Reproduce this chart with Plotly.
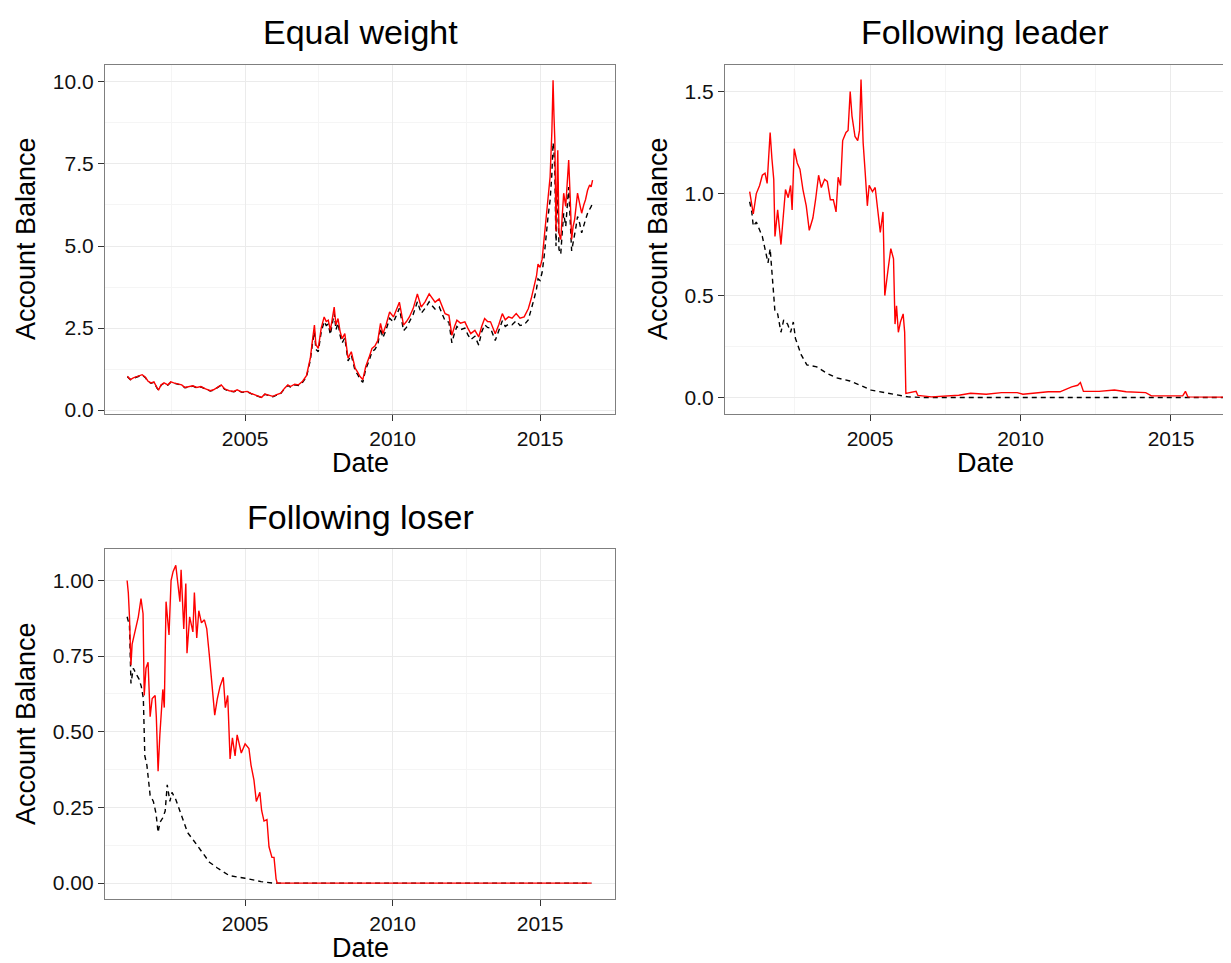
import plotly.graph_objects as go

# ---------------- data (decimal years, account balance) ----------------
# Panel 1: Equal weight (shared dates for both series)
EW_DATES = [2001.01, 2001.11, 2001.21, 2001.38, 2001.51, 2001.62, 2001.71, 2001.81,
            2001.91, 2002.02, 2002.07, 2002.15, 2002.25, 2002.38, 2002.48, 2002.58,
            2002.72, 2002.85, 2002.96, 2003.09, 2003.23, 2003.36, 2003.50, 2003.66,
            2003.82, 2003.93, 2004.06, 2004.19, 2004.30, 2004.46, 2004.62, 2004.73,
            2004.89, 2005.07, 2005.20, 2005.34, 2005.47, 2005.56, 2005.67, 2005.81,
            2005.94, 2006.07, 2006.21, 2006.34, 2006.45, 2006.54, 2006.68, 2006.81,
            2006.95, 2007.08, 2007.21, 2007.28, 2007.35, 2007.40, 2007.48, 2007.58,
            2007.68, 2007.75, 2007.82, 2007.89, 2007.96, 2008.02, 2008.08, 2008.15,
            2008.22, 2008.29, 2008.38, 2008.44, 2008.49, 2008.60, 2008.66, 2008.73,
            2008.82, 2008.89, 2008.99, 2009.09, 2009.20, 2009.30, 2009.40, 2009.50,
            2009.59, 2009.67, 2009.78, 2009.90, 2010.03, 2010.12, 2010.23, 2010.30,
            2010.37, 2010.47, 2010.57, 2010.70, 2010.84, 2010.97, 2011.10, 2011.24,
            2011.34, 2011.44, 2011.58, 2011.68, 2011.78, 2011.91, 2012.01, 2012.10,
            2012.18, 2012.30, 2012.45, 2012.55, 2012.65, 2012.79, 2012.92, 2013.02,
            2013.12, 2013.22, 2013.32, 2013.48, 2013.60, 2013.72, 2013.82, 2013.93,
            2014.05, 2014.19, 2014.32, 2014.46, 2014.60, 2014.70, 2014.80, 2014.88,
            2014.93, 2015.00, 2015.07, 2015.14, 2015.20, 2015.27, 2015.34, 2015.40,
            2015.44, 2015.47, 2015.50, 2015.54, 2015.57, 2015.60, 2015.64, 2015.70,
            2015.75, 2015.80, 2015.87, 2015.93, 2015.97, 2016.02, 2016.07, 2016.12,
            2016.17, 2016.22, 2016.27, 2016.34, 2016.41, 2016.48, 2016.54, 2016.61,
            2016.68, 2016.73, 2016.78]
EW_RED = [1.03, 0.93, 0.98, 1.03, 1.08, 1.00, 0.88, 0.83,
          0.86, 0.67, 0.62, 0.77, 0.83, 0.77, 0.86, 0.83,
          0.79, 0.77, 0.69, 0.72, 0.74, 0.69, 0.72, 0.65,
          0.59, 0.62, 0.69, 0.77, 0.65, 0.59, 0.57, 0.62,
          0.55, 0.57, 0.51, 0.47, 0.42, 0.39, 0.49, 0.45,
          0.42, 0.47, 0.52, 0.67, 0.77, 0.72, 0.79, 0.77,
          0.88, 1.05, 1.58, 2.10, 2.59, 2.00, 1.88, 2.50,
          2.84, 2.70, 2.74, 2.43, 2.80, 3.14, 2.60, 2.79,
          2.40, 2.18, 2.33, 1.85, 1.58, 1.78, 1.50, 1.28,
          1.15, 1.03, 0.93, 1.33, 1.60, 1.88, 1.95, 2.13,
          2.64, 2.33, 2.60, 2.99, 2.84, 3.05, 3.29, 2.95,
          2.59, 2.70, 2.84, 3.10, 3.54, 3.14, 3.30, 3.54,
          3.40, 3.29, 3.39, 3.15, 2.94, 2.89, 2.28, 2.55,
          2.74, 2.65, 2.69, 2.50, 2.33, 2.43, 2.23, 2.55,
          2.79, 2.70, 2.69, 2.33, 2.60, 2.94, 2.75, 2.84,
          2.80, 2.94, 2.80, 2.84, 3.09, 3.40, 3.74, 4.10,
          4.45, 4.35, 4.60, 5.20, 5.80, 6.50, 7.11, 8.50,
          10.05, 9.00, 8.22, 5.45, 6.60, 7.92, 5.40, 5.20,
          5.90, 6.61, 6.21, 7.20, 7.62, 6.50, 5.20, 5.60,
          5.80, 6.20, 6.61, 6.30, 6.00, 6.25, 6.41, 6.70,
          6.86, 6.80, 7.01]
EW_BLACK = [1.02, 0.93, 0.97, 1.02, 1.07, 0.99, 0.87, 0.82,
            0.85, 0.66, 0.61, 0.76, 0.82, 0.76, 0.85, 0.82,
            0.78, 0.76, 0.68, 0.71, 0.73, 0.68, 0.71, 0.64,
            0.58, 0.61, 0.68, 0.76, 0.64, 0.58, 0.56, 0.61,
            0.54, 0.56, 0.50, 0.46, 0.41, 0.38, 0.48, 0.44,
            0.41, 0.46, 0.51, 0.66, 0.75, 0.70, 0.77, 0.75,
            0.85, 1.01, 1.52, 2.00, 2.40, 1.85, 1.78, 2.38,
            2.70, 2.58, 2.62, 2.30, 2.65, 2.95, 2.45, 2.65,
            2.28, 2.05, 2.20, 1.75, 1.50, 1.68, 1.42, 1.20,
            1.08, 0.95, 0.85, 1.25, 1.50, 1.78, 1.85, 2.00,
            2.50, 2.20, 2.45, 2.80, 2.68, 2.88, 3.10, 2.78,
            2.42, 2.52, 2.68, 2.92, 3.30, 2.95, 3.10, 3.30,
            3.18, 3.08, 3.15, 2.95, 2.72, 2.68, 2.05, 2.35,
            2.55, 2.45, 2.50, 2.30, 2.15, 2.25, 1.98, 2.38,
            2.60, 2.52, 2.50, 2.12, 2.42, 2.72, 2.55, 2.62,
            2.60, 2.72, 2.58, 2.60, 2.75, 3.05, 3.40, 3.70,
            4.00, 3.95, 4.20, 4.70, 5.30, 5.90, 6.40, 7.20,
            8.15, 7.90, 7.30, 5.00, 6.00, 7.00, 4.90, 4.75,
            5.40, 6.00, 5.60, 6.40, 6.80, 5.80, 4.85, 5.10,
            5.30, 5.60, 5.90, 5.70, 5.40, 5.65, 5.80, 6.00,
            6.10, 6.20, 6.30]

# Panel 2: Following leader
FLD_RED_DATES = [2001.00, 2001.09, 2001.12, 2001.22, 2001.33, 2001.42, 2001.51, 2001.58, 2001.68, 2001.74,
                 2001.80, 2001.84, 2001.93, 2002.04, 2002.13, 2002.19, 2002.28, 2002.36, 2002.41, 2002.48,
                 2002.58, 2002.67, 2002.77, 2002.88, 2002.98, 2003.10, 2003.19, 2003.29, 2003.38, 2003.49,
                 2003.58, 2003.68, 2003.78, 2003.87, 2003.94, 2004.02, 2004.09, 2004.20, 2004.27, 2004.34,
                 2004.40, 2004.50, 2004.59, 2004.65, 2004.70, 2004.77, 2004.84, 2004.91, 2004.97, 2005.08,
                 2005.17, 2005.25, 2005.34, 2005.43, 2005.49, 2005.60, 2005.69, 2005.78, 2005.83, 2005.88,
                 2005.94, 2006.01, 2006.10, 2006.15, 2006.19, 2006.53, 2006.59, 2007.04, 2007.95, 2008.34,
                 2008.86, 2009.37, 2009.89, 2010.08, 2010.53, 2010.92, 2011.31, 2011.70, 2011.90, 2011.99,
                 2012.09, 2012.61, 2013.12, 2013.51, 2014.16, 2014.35, 2015.07, 2015.39, 2015.48, 2015.56,
                 2016.75]
FLD_RED = [1.01, 0.94, 0.90, 1.00, 1.04, 1.09, 1.10, 1.05, 1.30, 1.17,
           1.07, 0.79, 0.92, 0.75, 0.89, 1.02, 0.98, 1.04, 0.92, 1.22,
           1.15, 1.12, 1.02, 0.94, 0.82, 0.88, 0.97, 1.09, 1.03, 1.07,
           1.06, 0.97, 0.97, 0.91, 1.08, 1.04, 1.26, 1.30, 1.31, 1.50,
           1.38, 1.28, 1.26, 1.31, 1.56, 1.25, 1.10, 0.94, 1.04, 1.01,
           1.03, 0.92, 0.81, 0.91, 0.50, 0.63, 0.73, 0.68, 0.36, 0.45,
           0.32, 0.37, 0.41, 0.32, 0.02, 0.03, 0.01, 0.003, 0.011, 0.021,
           0.016, 0.024, 0.024, 0.016, 0.024, 0.028, 0.028, 0.052, 0.060, 0.073,
           0.030, 0.030, 0.037, 0.028, 0.024, 0.008, 0.008, 0.008, 0.030, 0.003,
           0.002]
FLD_BLACK_DATES = [2001.00, 2001.07, 2001.12, 2001.22, 2001.42, 2001.54, 2001.61, 2001.68, 2001.77, 2001.80,
                   2001.84, 2001.93, 2002.04, 2002.13, 2002.26, 2002.36, 2002.45, 2002.52, 2002.71, 2002.90,
                   2003.23, 2003.55, 2003.87, 2004.13, 2004.33, 2004.72, 2005.04, 2005.49, 2005.88, 2006.27,
                   2006.79, 2016.75]
FLD_BLACK = [0.96, 0.91, 0.84, 0.86, 0.79, 0.71, 0.66, 0.73, 0.58, 0.50,
             0.42, 0.41, 0.32, 0.38, 0.36, 0.32, 0.37, 0.29, 0.21, 0.16,
             0.15, 0.12, 0.097, 0.089, 0.081, 0.057, 0.036, 0.024, 0.013, 0.003,
             0.0, 0.0]

# Panel 3: Following loser
FLS_RED_DATES = [2001.00, 2001.04, 2001.08, 2001.13, 2001.17, 2001.24, 2001.31, 2001.38, 2001.47, 2001.54,
                 2001.58, 2001.64, 2001.71, 2001.78, 2001.85, 2001.95, 2001.99, 2002.05, 2002.11, 2002.21,
                 2002.26, 2002.32, 2002.42, 2002.49, 2002.56, 2002.65, 2002.72, 2002.79, 2002.83, 2002.92,
                 2002.99, 2003.03, 2003.12, 2003.23, 2003.28, 2003.36, 2003.43, 2003.52, 2003.62, 2003.70,
                 2003.79, 2003.89, 2003.97, 2004.06, 2004.15, 2004.26, 2004.33, 2004.41, 2004.49, 2004.57,
                 2004.66, 2004.73, 2004.87, 2005.00, 2005.13, 2005.20, 2005.30, 2005.38, 2005.50, 2005.56,
                 2005.64, 2005.74, 2005.81, 2005.91, 2005.98, 2006.05, 2006.09, 2016.74]
FLS_RED = [1.00, 0.96, 0.88, 0.72, 0.79, 0.82, 0.86, 0.88, 0.94, 0.89,
           0.62, 0.71, 0.73, 0.55, 0.61, 0.62, 0.55, 0.37, 0.49, 0.64,
           0.58, 0.93, 0.82, 1.00, 1.03, 1.05, 0.99, 0.93, 1.035, 0.84,
           0.99, 0.76, 0.88, 0.83, 0.96, 0.81, 0.90, 0.86, 0.87, 0.84,
           0.75, 0.63, 0.555, 0.61, 0.65, 0.68, 0.58, 0.62, 0.41, 0.48,
           0.42, 0.49, 0.43, 0.46, 0.445, 0.39, 0.34, 0.27, 0.30, 0.24,
           0.205, 0.21, 0.12, 0.085, 0.085, 0.014, 0.0, 0.0]
FLS_BLACK_DATES = [2001.00, 2001.08, 2001.13, 2001.21, 2001.31, 2001.40, 2001.48, 2001.55, 2001.60, 2001.67,
                   2001.78, 2001.89, 2001.98, 2002.05, 2002.11, 2002.21, 2002.29, 2002.36, 2002.45, 2002.52,
                   2002.65, 2002.79, 2002.92, 2003.05, 2003.26, 2003.52, 2003.79, 2004.06, 2004.46, 2005.00,
                   2005.54, 2005.94, 2016.74]
FLS_BLACK = [0.88, 0.85, 0.66, 0.71, 0.69, 0.675, 0.65, 0.61, 0.42, 0.39,
             0.29, 0.27, 0.23, 0.167, 0.20, 0.216, 0.238, 0.325, 0.27, 0.30,
             0.276, 0.238, 0.205, 0.167, 0.14, 0.107, 0.069, 0.05, 0.025, 0.016,
             0.005, 0.0, 0.0]

TITLES = ["Equal weight", "Following leader", "Following loser"]
X_TICKS = [2005, 2010, 2015]
X_TICKTEXT = ["2005", "2010", "2015"]
Y1_TICKS = [0, 2.5, 5, 7.5, 10]
Y1_TEXT = ["0.0", "2.5", "5.0", "7.5", "10.0"]
Y2_TICKS = [0, 0.5, 1.0, 1.5]
Y2_TEXT = ["0.0", "0.5", "1.0", "1.5"]
Y3_TICKS = [0, 0.25, 0.5, 0.75, 1.0]
Y3_TEXT = ["0.00", "0.25", "0.50", "0.75", "1.00"]

# ---------------- figure ----------------
W, H = 1231, 963
FONT = "Liberation Sans, Arial, Helvetica, sans-serif"
RED = "#ff0000"
BLACK = "#000000"

def px(x):
    return x / W

def py(y):
    return 1 - y / H

fig = go.Figure()

def add_pair(xb, yb, xr, yr, xa, ya):
    fig.add_trace(go.Scatter(x=xb, y=yb, mode="lines", xaxis=xa, yaxis=ya,
                             line=dict(color=BLACK, width=1.4, dash="5px,4px"),
                             showlegend=False, hoverinfo="skip"))
    fig.add_trace(go.Scatter(x=xr, y=yr, mode="lines", xaxis=xa, yaxis=ya,
                             line=dict(color=RED, width=1.4),
                             showlegend=False, hoverinfo="skip"))

add_pair(EW_DATES, EW_BLACK, EW_DATES, EW_RED, "x", "y")
add_pair(FLD_BLACK_DATES, FLD_BLACK, FLD_RED_DATES, FLD_RED, "x2", "y2")
add_pair(FLS_BLACK_DATES, FLS_BLACK, FLS_RED_DATES, FLS_RED, "x3", "y3")

GRID = "#ebebeb"
MINOR = "#f5f5f5"
BORDER = "#7f7f7f"
TICKC = "#333333"

def xaxis_cfg(domain, rng, anchor):
    return dict(domain=domain, range=rng, anchor=anchor, tickmode="array",
                tickvals=X_TICKS, ticktext=X_TICKTEXT, showgrid=True, gridcolor=GRID,
                gridwidth=1, minor=dict(tickvals=[2002.5, 2007.5, 2012.5], showgrid=True,
                                         gridcolor=MINOR, gridwidth=1),
                showline=True, linecolor=BORDER, linewidth=1.2, mirror=True,
                ticks="outside", ticklen=6, tickwidth=1, tickcolor=TICKC,
                zeroline=False, tickfont=dict(family=FONT, size=21, color="#111111"))

def yaxis_cfg(domain, rng, anchor, tv, tt, minor, mirror=True):
    return dict(domain=domain, range=rng, anchor=anchor, tickmode="array",
                tickvals=tv, ticktext=tt, showgrid=True, gridcolor=GRID, gridwidth=1,
                minor=dict(tickvals=minor, showgrid=True, gridcolor=MINOR, gridwidth=1),
                showline=True, linecolor=BORDER, linewidth=1.2, mirror=mirror,
                ticks="outside", ticklen=6, tickwidth=1, tickcolor=TICKC,
                zeroline=False, tickfont=dict(family=FONT, size=21, color="#111111"))

top_dom = [py(409), py(57)]
bot_dom = [py(898), py(546)]

fig.update_layout(
    width=W, height=H, margin=dict(l=0, r=0, t=0, b=0),
    paper_bgcolor="white", plot_bgcolor="white",
    font=dict(family=FONT, color="black"),
    xaxis=xaxis_cfg([px(97), px(607)], [2000.25, 2017.54], "y"),
    yaxis=yaxis_cfg(top_dom, [-0.106, 10.53], "x", Y1_TICKS, Y1_TEXT, [1.25, 3.75, 6.25, 8.75]),
    xaxis2=xaxis_cfg([px(717), 1.0], [2000.18, 2017.26], "y2"),
    yaxis2=yaxis_cfg(top_dom, [-0.079, 1.633], "x2", Y2_TICKS, Y2_TEXT, [0.25, 0.75, 1.25], mirror=False),
    xaxis3=xaxis_cfg([px(97), px(607)], [2000.25, 2017.54], "y3"),
    yaxis3=yaxis_cfg(bot_dom, [-0.051, 1.1025], "x3", Y3_TICKS, Y3_TEXT, [0.125, 0.375, 0.625, 0.875]),
)

ann = []
def text(x, y, s, size, angle=0):
    ann.append(dict(x=px(x), y=py(y), xref="paper", yref="paper", text=s, showarrow=False,
                    xanchor="center", yanchor="middle", textangle=angle,
                    font=dict(family=FONT, size=size, color="black")))

text(352, 24, TITLES[0], 34)
text(977, 24, TITLES[1], 34)
text(352, 513, TITLES[2], 34)
text(352, 459, "Date", 27)
text(977, 459, "Date", 27)
text(352, 948, "Date", 27)
text(18, 233, "Account Balance", 27, -90)
text(650, 233, "Account Balance", 27, -90)
text(18, 722, "Account Balance", 27, -90)
fig.update_layout(annotations=ann)

fig.write_html("out.html")
